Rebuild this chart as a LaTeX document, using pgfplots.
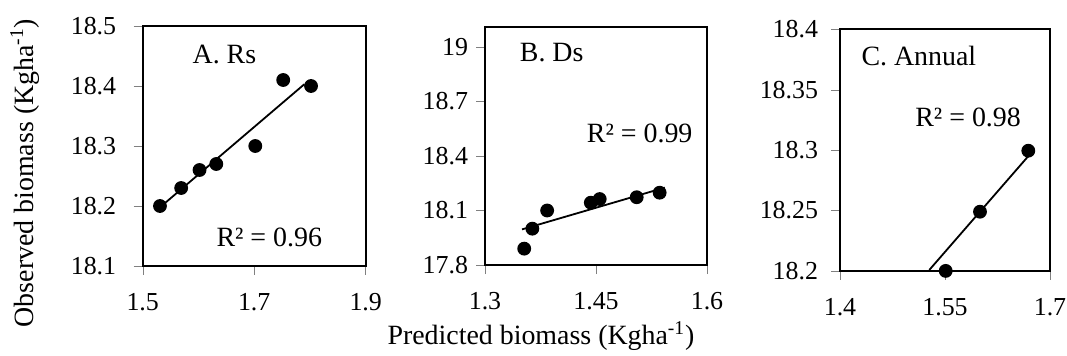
\documentclass[border=0pt]{standalone}
\usepackage{pgfplots}
\pgfplotsset{compat=1.18}
\usepackage{fontspec}
\setmainfont{Liberation Serif}
\newcommand{\tfont}{\fontsize{13}{15}\selectfont}
\newcommand{\lfont}{\fontsize{14}{16}\selectfont}
\pgfplotsset{
  myax/.style={
    scale only axis, clip=false, anchor=north west,
    line width=0.9bp,
    tick align=outside,
    xtick pos=bottom, ytick pos=left,
    major tick length=4.5bp,
    tick label style={font=\tfont},
    /pgf/number format/assume math mode=true,
    xticklabel style={yshift=-5.5bp},
  },
  pts/.style={only marks, mark=*, mark size=3bp, black},
  fit/.style={black, line width=0.9bp, no marks},
}
\begin{document}
\begin{tikzpicture}
\useasboundingbox (0,0) rectangle (533.5bp,-178bp);
% Panel A
\begin{axis}[myax, at={(71.35bp,-13bp)}, width=111.5bp, height=120bp,
  xmin=1.5, xmax=1.9, ymin=18.1, ymax=18.5,
  xtick={1.5,1.7,1.9}, ytick={18.1,18.2,18.3,18.4,18.5},
  yticklabel style={xshift=-5bp},
  /pgf/number format/.cd, fixed, precision=2]
\addplot[pts] coordinates {(1.531,18.20) (1.569,18.23) (1.602,18.26) (1.632,18.27) (1.702,18.30) (1.752,18.41) (1.802,18.40)};
\addplot[fit] coordinates {(1.53,18.197) (1.79,18.403)};
\node[anchor=west, font=\lfont] at (axis cs:1.576,18.452) {A. Rs};
\node[font=\lfont] at (axis cs:1.727,18.148) {R² = 0.96};
\end{axis}
% Panel B
\begin{axis}[myax, at={(242.5bp,-13.5bp)}, width=111bp, height=119bp,
  xmin=1.3, xmax=1.6, ymin=17.8, ymax=19.11,
  xtick={1.3,1.45,1.6}, ytick={17.8,18.1,18.4,18.7,19},
  yticklabel style={xshift=-0.2bp},
  /pgf/number format/.cd, fixed, precision=2]
\addplot[pts] coordinates {(1.353,17.89) (1.364,18.00) (1.384,18.10) (1.443,18.143) (1.455,18.163) (1.505,18.173) (1.536,18.198)};
\addplot[fit] coordinates {(1.350,17.996) (1.543,18.226)};
\node[anchor=west, font=\lfont] at (axis cs:1.337,18.967) {B. Ds};
\node[font=\lfont] at (axis cs:1.509,18.525) {R² = 0.99};
\end{axis}
% Panel C
\begin{axis}[myax, at={(420bp,-14.65bp)}, width=105bp, height=120.8bp,
  xmin=1.4, xmax=1.7, ymin=18.2, ymax=18.4,
  xtick={1.4,1.55,1.7}, ytick={18.2,18.25,18.3,18.35,18.4},
  yticklabel style={xshift=-2.7bp},
  /pgf/number format/.cd, fixed, precision=2]
\addplot[pts] coordinates {(1.551,18.20) (1.60,18.249) (1.669,18.2995)};
\addplot[fit] coordinates {(1.5276,18.2008) (1.669,18.295)};
\node[anchor=west, font=\lfont] at (axis cs:1.42,18.378) {C. Annual};
\node[font=\lfont] at (axis cs:1.583,18.327) {R² = 0.98};
\end{axis}
\draw[line width=0.9bp] (71.35bp,-13bp) rectangle (182.85bp,-133bp);
\draw[line width=0.9bp] (242.5bp,-13.5bp) rectangle (353.5bp,-132.5bp);
\draw[line width=0.9bp] (420bp,-14.65bp) rectangle (525bp,-135.45bp);
\node[rotate=90, font=\lfont] at (12.5bp,-86.5bp) {Observed biomass (Kgha\textsuperscript{-1})};
\node[font=\lfont] at (270.5bp,-168bp) {Predicted biomass (Kgha\textsuperscript{-1})};
\end{tikzpicture}
\end{document}
